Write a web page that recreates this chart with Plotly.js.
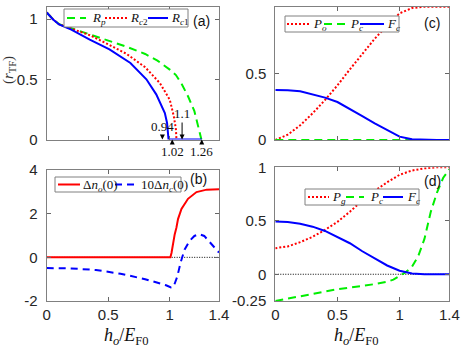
<!DOCTYPE html>
<html>
<head>
<meta charset="utf-8">
<script src="https://cdn.plot.ly/plotly-3.0.1.min.js"></script>
<style>html,body{margin:0;padding:0;background:#fff;}#chart{width:463px;height:348px;}</style>
</head>
<body>
<div id="chart"></div>
<script>
// ---------- data ----------
const xTickVals = [0, 0.5, 1, 1.4];
const xTickText = ['0', '0.5', '1', '1.4'];

// panel (a)
const aRpX  = [0, 0.05, 0.1, 0.2, 0.35, 0.5, 0.65, 0.8, 0.9, 1.0, 1.05, 1.1, 1.15, 1.2, 1.23, 1.25, 1.257];
const aRpY  = [1.055, 1.0, 0.958, 0.925, 0.875, 0.825, 0.77, 0.71, 0.655, 0.58, 0.535, 0.455, 0.355, 0.235, 0.12, 0.03, 0];
const aRc2X = [0, 0.05, 0.1, 0.2, 0.35, 0.5, 0.65, 0.8, 0.92, 1.0, 1.033, 1.05, 1.054];
const aRc2Y = [1.055, 1.0, 0.957, 0.918, 0.866, 0.79, 0.71, 0.6, 0.468, 0.33, 0.193, 0.083, 0];
const aRc1X = [0, 0.05, 0.1, 0.2, 0.35, 0.51, 0.68, 0.81, 0.89, 0.96, 0.978, 0.99, 1.26];
const aRc1Y = [1.055, 0.998, 0.955, 0.912, 0.83, 0.748, 0.635, 0.5, 0.375, 0.22, 0.137, 0, 0];
const aTickVals = [0, 0.5, 1];
const aTickText = ['0', '0.5', '1'];
const aMarks = [0.94, 1.1, 1.02, 1.26];
const aMarkText = ['0.94', '1.1', '1.02', '1.26'];

// panel (b)
const bNoX = [0, 0.5, 1.0, 1.005, 1.014, 1.027, 1.04, 1.054, 1.067, 1.095, 1.148, 1.217, 1.3, 1.4];
const bNoY = [0, 0, 0, 0, 0.2, 0.74, 1.05, 1.36, 1.75, 2.22, 2.68, 2.99, 3.1, 3.12];
const bNcX = [0, 0.2, 0.4, 0.6, 0.8, 0.9, 0.97, 1.01, 1.03, 1.06, 1.09, 1.12, 1.16, 1.2, 1.24, 1.28, 1.32, 1.36, 1.4];
const bNcY = [-0.49, -0.51, -0.58, -0.75, -1.0, -1.15, -1.28, -1.38, -1.36, -0.9, -0.2, 0.35, 0.75, 0.98, 1.06, 0.98, 0.72, 0.48, 0.22];
const bTickVals = [-2, 0, 2, 4];
const bTickText = ['-2', '0', '2', '4'];

// panels (c) and (d) share x grid
const cdX = [0, 0.1, 0.2, 0.3, 0.4, 0.5, 0.6, 0.7, 0.8, 0.9, 1.0, 1.1, 1.2, 1.3, 1.4];
const cPo = [0, 0.04, 0.11, 0.2, 0.3, 0.41, 0.53, 0.645, 0.76, 0.86, 0.95, 0.99, 1.0, 1.0, 1.0];
const cPc = [0, 0, 0, 0, 0, 0, 0, 0, 0, 0, 0, 0, 0, 0, 0];
const cFc = [0.375, 0.373, 0.365, 0.342, 0.318, 0.285, 0.235, 0.18, 0.125, 0.072, 0.025, 0.005, 0.001, 0, 0];
const cTickVals = [0, 0.5, 1];
const cTickText = ['0', '0.5', '1'];

const dPg = [0.244, 0.26, 0.3, 0.35, 0.415, 0.49, 0.585, 0.69, 0.78, 0.86, 0.93, 0.97, 0.99, 1.0, 1.0];
const dFc = [0.493, 0.488, 0.473, 0.445, 0.405, 0.35, 0.29, 0.215, 0.145, 0.082, 0.033, 0.008, 0.001, 0, 0];
const dPcX = [0, 0.1, 0.2, 0.3, 0.4, 0.5, 0.6, 0.7, 0.8, 0.9, 0.95, 1.0, 1.05, 1.1, 1.15, 1.2, 1.25, 1.3, 1.35, 1.4];
const dPcY = [-0.25, -0.228, -0.205, -0.18, -0.16, -0.14, -0.125, -0.11, -0.092, -0.07, -0.05, -0.015, 0.02, 0.07, 0.17, 0.33, 0.58, 0.76, 0.9, 0.98];
const dTickVals = [-0.25, 0, 0.5, 1];
const dTickText = ['-0.25', '0', '0.5', '1'];

const zeroX = [0, 1.4];
const zeroY = [0, 0];

// ---------- styles ----------
const RED = '#ff0000', GREEN = '#00ee00', BLUE = '#0000ff';
const W = 463, H = 348;
const px = v => v / W;
const py = v => 1 - v / H;
const DOT = '2px,2px', DASH = '8px,5px', DASHB = '7px,5px';
const TICKFONT = {family: 'Liberation Sans, Arial, sans-serif', size: 15, color: '#262626'};
const SERIF = 'Liberation Serif, Times New Roman, serif';

function ln(x, y, xa, ya, color, dash, width) {
  return {x: x, y: y, xaxis: xa, yaxis: ya, type: 'scatter', mode: 'lines',
    line: {color: color, dash: dash, width: width || 2}, showlegend: false, hoverinfo: 'skip'};
}

const traces = [
  ln(aRpX, aRpY, 'x', 'y', GREEN, DASH),
  ln(aRc2X, aRc2Y, 'x', 'y', RED, DOT),
  ln(aRc1X, aRc1Y, 'x', 'y', BLUE, 'solid'),
  ln(zeroX, zeroY, 'x2', 'y2', '#000', '1px,1.5px', 1),
  ln(bNoX, bNoY, 'x2', 'y2', RED, 'solid'),
  ln(bNcX, bNcY, 'x2', 'y2', BLUE, DASHB),
  ln(cdX, cPo, 'x3', 'y3', RED, DOT),
  ln(cdX, cPc, 'x3', 'y3', GREEN, DASH),
  ln(cdX, cFc, 'x3', 'y3', BLUE, 'solid'),
  ln(zeroX, zeroY, 'x4', 'y4', '#000', '1px,1.5px', 1),
  ln(cdX, dPg, 'x4', 'y4', RED, DOT),
  ln(dPcX, dPcY, 'x4', 'y4', GREEN, DASH),
  ln(cdX, dFc, 'x4', 'y4', BLUE, 'solid')
];

function xax(domain, anchor, showLabels) {
  return {domain: domain, anchor: anchor, range: [0, 1.4], tickvals: xTickVals, ticktext: xTickText,
    showticklabels: showLabels, ticks: 'inside', ticklen: 4, tickcolor: '#666', tickwidth: 1,
    showline: true, linecolor: '#808080', linewidth: 1, mirror: 'ticks', showgrid: false, zeroline: false,
    tickfont: TICKFONT, ticklabelstandoff: 0, fixedrange: true};
}
function yax(domain, anchor, range, vals, text) {
  return {domain: domain, anchor: anchor, range: range, tickvals: vals, ticktext: text,
    ticks: 'inside', ticklen: 4, tickcolor: '#666', tickwidth: 1,
    showline: true, linecolor: '#808080', linewidth: 1, mirror: 'ticks', showgrid: false, zeroline: false,
    tickfont: TICKFONT, ticklabelstandoff: 5, fixedrange: true};
}

const xL = [px(46.7), px(219)];
const xR = [px(275.3), px(449.3)];

const shapes = [];
const annotations = [];

function legend(box, items) {
  shapes.push({type: 'rect', xref: 'paper', yref: 'paper', layer: 'above',
    x0: px(box[0]), x1: px(box[1]), y0: py(box[3]), y1: py(box[2]),
    line: {color: '#808080', width: 1}, fillcolor: '#ffffff'});
  const ym = (box[2] + box[3]) / 2;
  items.forEach(it => {
    shapes.push({type: 'line', xref: 'paper', yref: 'paper', layer: 'above',
      x0: px(it[0]), x1: px(it[1]), y0: py(ym), y1: py(ym),
      line: {color: it[2], dash: it[3], width: 2}});
    annotations.push({xref: 'paper', yref: 'paper', x: px(it[4]), y: py(ym + 0.5), xanchor: 'left', yanchor: 'middle',
      text: it[5], showarrow: false, font: {family: SERIF, size: 13, color: '#111'}});
  });
}

legend([64, 188, 9, 27], [
  [67, 86, GREEN, DASH, 90, '<i>R</i><sub><i>p</i></sub>'],
  [105, 127, RED, DOT, 128, '<i>R</i><sub><i>c</i>2</sub>'],
  [148, 168, BLUE, 'solid', 169, '<i>R</i><sub><i>c</i>1</sub>']
]);
legend([55, 181, 177, 192], [
  [58, 80, RED, 'solid', 81, 'Δ<i>n</i><sub><i>o</i></sub>(0)'],
  [115, 136, BLUE, DASHB, 139, '10Δ<i>n</i><sub><i>c</i></sub>(0)']
]);
legend([285, 399, 16, 32], [
  [287, 310, RED, DOT, 311, '<i>P</i><sub><i>o</i></sub>'],
  [324, 347, GREEN, DASH, 348, '<i>P</i><sub><i>c</i></sub>'],
  [360, 384, BLUE, 'solid', 385, '<i>F</i><sub><i>c</i></sub>']
]);
legend([305, 419, 189, 205], [
  [308, 329, RED, DOT, 330, '<i>P</i><sub><i>g</i></sub>'],
  [346, 364, GREEN, DASH, 368, '<i>P</i><sub><i>c</i></sub>'],
  [383, 403, BLUE, 'solid', 405, '<i>F</i><sub><i>c</i></sub>']
]);

// panel letters
[['(a)', 201.5, 21], ['(b)', 198, 178.5], ['(c)', 432, 22.5], ['(d)', 432.5, 181]].forEach(p => {
  annotations.push({xref: 'paper', yref: 'paper', x: px(p[1]), y: py(p[2]), xanchor: 'center', yanchor: 'middle',
    text: p[0], showarrow: false, font: {family: 'Liberation Sans, Arial, sans-serif', size: 14, color: '#111'}});
});

// arrows in (a)
const arrowOffsets = [-13, -26, 12, 12];
aMarks.forEach((m, i) => {
  annotations.push({xref: 'x', yref: 'y', x: m, y: 0, ax: 0, ay: arrowOffsets[i], text: aMarkText[i],
    showarrow: true, arrowhead: 2, arrowsize: 1, arrowwidth: 1, arrowcolor: '#000', standoff: 0,
    font: {family: SERIF, size: 13, color: '#111'}});
});

// axis labels
annotations.push({xref: 'paper', yref: 'paper', x: px(9), y: py(70), xanchor: 'center', yanchor: 'middle', textangle: -90,
  text: '(<i>r</i><sub>TF</sub>)', showarrow: false, font: {family: SERIF, size: 15, color: '#333'}});
[126, 356].forEach(cx => {
  annotations.push({xref: 'paper', yref: 'paper', x: px(cx), y: py(336), xanchor: 'center', yanchor: 'middle',
    text: '<i>h</i><sub><i>o</i></sub>/<i>E</i><sub>F0</sub>', showarrow: false,
    font: {family: SERIF, size: 18, color: '#111'}});
});

const layout = {
  width: W, height: H, margin: {l: 0, r: 0, t: 0, b: 0}, paper_bgcolor: '#fff', plot_bgcolor: '#fff',
  showlegend: false,
  xaxis: xax(xL, 'y', false),
  yaxis: yax([py(139.5), py(7)], 'x', [0, 1.1], aTickVals, aTickText),
  xaxis2: xax(xL, 'y2', true),
  yaxis2: yax([py(301), py(170)], 'x2', [-2, 4], bTickVals, bTickText),
  xaxis3: xax(xR, 'y3', false),
  yaxis3: yax([py(140), py(6.7)], 'x3', [0, 1], cTickVals, cTickText),
  xaxis4: xax(xR, 'y4', true),
  yaxis4: yax([py(301), py(167.3)], 'x4', [-0.25, 1], dTickVals, dTickText),
  shapes: shapes,
  annotations: annotations
};

Plotly.newPlot('chart', traces, layout, {staticPlot: true, displayModeBar: false});
</script>
</body>
</html>
